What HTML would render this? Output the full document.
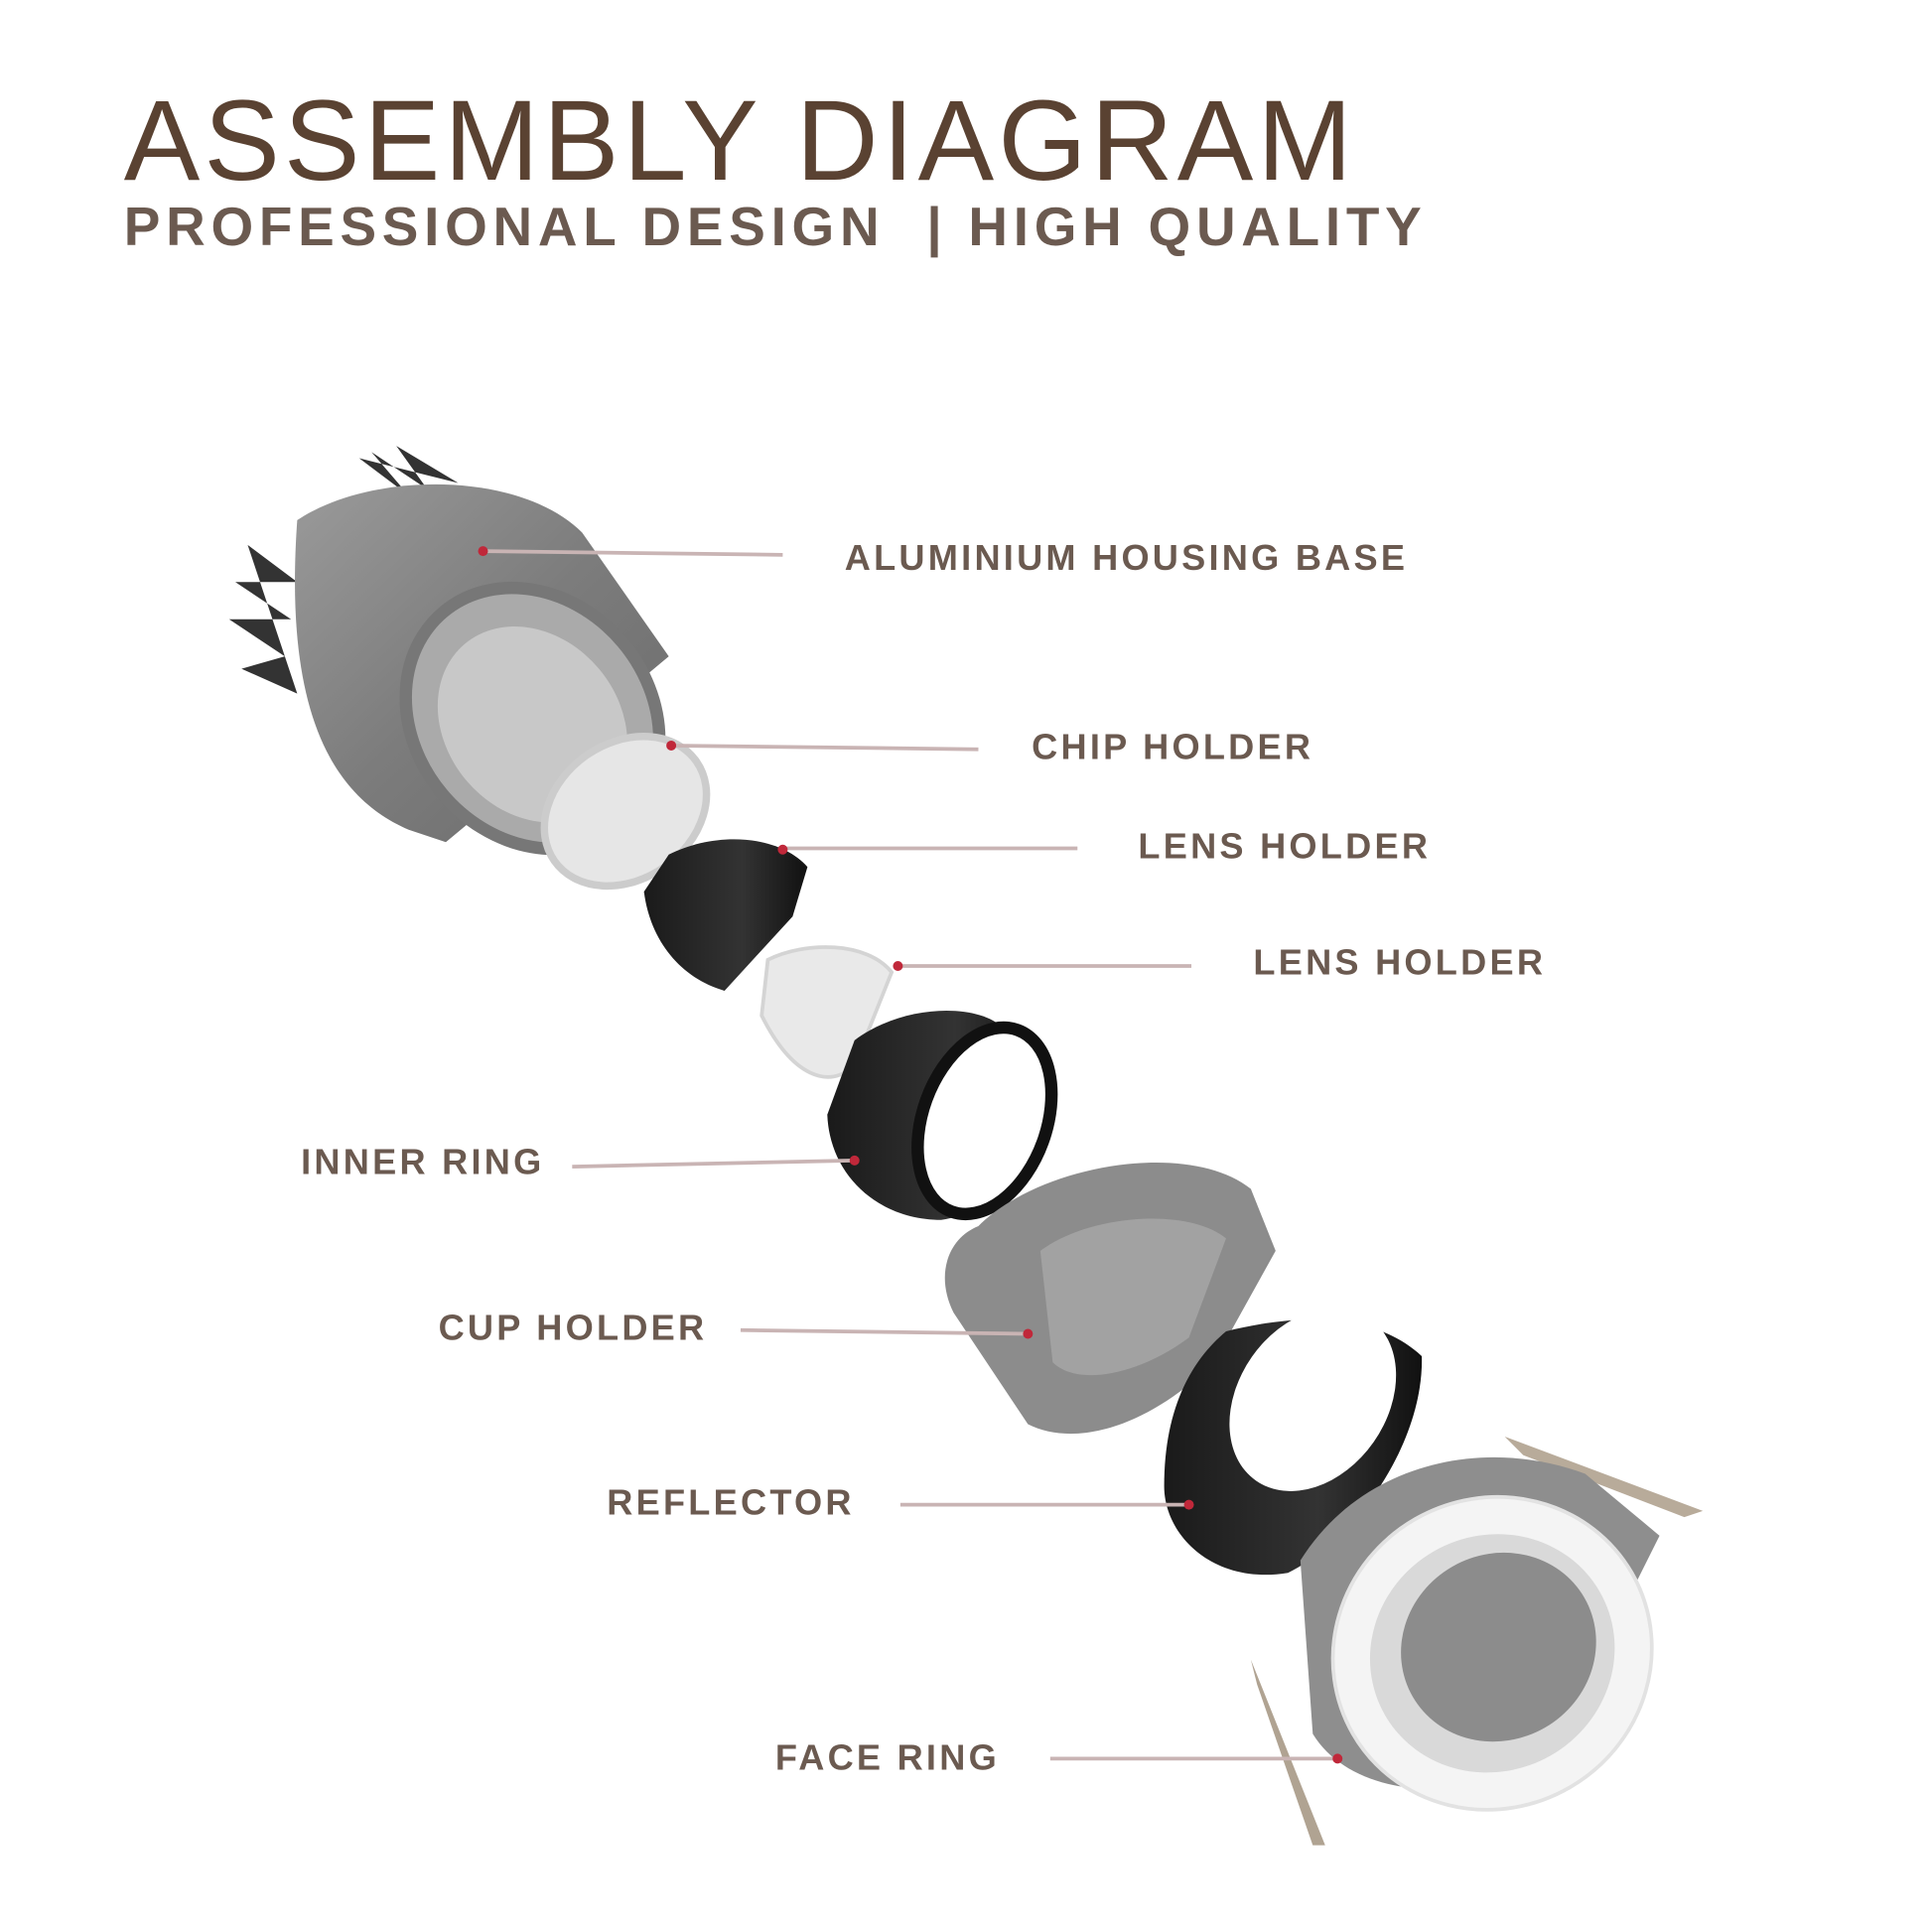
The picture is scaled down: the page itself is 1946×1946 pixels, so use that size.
<!DOCTYPE html>
<html><head><meta charset="utf-8"><style>
html,body{margin:0;padding:0;background:#fff;}
svg{display:block;}
text{font-family:"Liberation Sans",sans-serif;}
</style></head><body>
<svg width="1946" height="1946" viewBox="0 0 1560 1560" xmlns="http://www.w3.org/2000/svg">
<defs>
<linearGradient id="gg" x1="0" y1="0" x2="1" y2="1"><stop offset="0" stop-color="#9a9a9a"/><stop offset="0.5" stop-color="#7c7c7c"/><stop offset="1" stop-color="#6a6a6a"/></linearGradient>
<linearGradient id="bk" x1="0" y1="0" x2="1" y2="0"><stop offset="0" stop-color="#1a1a1a"/><stop offset="0.6" stop-color="#333"/><stop offset="1" stop-color="#111"/></linearGradient>
</defs>
<rect width="1560" height="1560" fill="#fff"/>
<text x="100" y="145" font-size="92" fill="#5a4232" letter-spacing="3.3">ASSEMBLY DIAGRAM</text>
<text x="100" y="198" font-size="44" fill="#6b5a50" letter-spacing="4.6" font-weight="600" xml:space="preserve">PROFESSIONAL DESIGN  | HIGH QUALITY</text>

<!-- Housing -->
<g>
 <polygon points="290,370 330,400 300,365 345,395 320,360 370,390" fill="#333"/>
 <polygon points="200,440 240,470 190,470 235,500 185,500 230,530 195,540 240,560" fill="#333"/>
 <path d="M240,420 C300,380 420,380 470,430 L540,530 L360,680 L330,670 C260,640 230,560 240,420 Z" fill="url(#gg)"/>
 <ellipse cx="430" cy="580" rx="95" ry="112" transform="rotate(-40 430 580)" fill="#aaa" stroke="#777" stroke-width="10"/>
 <ellipse cx="430" cy="585" rx="70" ry="85" transform="rotate(-40 430 585)" fill="#c8c8c8"/>
</g>
<!-- Chip holder -->
<ellipse cx="505" cy="655" rx="70" ry="55" transform="rotate(-35 505 655)" fill="#e6e6e6" stroke="#ccc" stroke-width="6"/>
<!-- Lens holder cone -->
<path d="M540,690 C580,670 630,675 652,700 L640,740 L585,800 C550,790 525,760 520,720 Z" fill="url(#bk)"/>
<!-- Lens -->
<path d="M620,775 C650,760 700,760 720,785 L690,860 C670,880 640,870 615,820 Z" fill="#e9e9e9" stroke="#d4d4d4" stroke-width="3"/>
<!-- Inner ring -->
<path d="M690,840 C730,810 790,810 810,830 L840,880 C845,930 800,980 760,985 C710,985 670,950 668,900 Z" fill="url(#bk)"/>
<ellipse cx="795" cy="905" rx="50" ry="78" transform="rotate(20 795 905)" fill="#fff" stroke="#111" stroke-width="10"/>
<!-- Cup holder -->
<path d="M790,990 C840,940 960,920 1010,960 L1030,1010 L980,1100 C930,1150 870,1170 830,1150 L770,1060 C755,1030 765,1000 790,990 Z" fill="#8c8c8c"/>
<path d="M840,1010 C880,980 960,975 990,1000 L960,1080 C920,1110 870,1120 850,1100 Z" fill="#a2a2a2"/>
<!-- Reflector -->
<path d="M990,1075 C1050,1060 1110,1060 1148,1095 C1150,1160 1100,1240 1040,1270 C980,1280 940,1240 940,1200 C940,1140 960,1100 990,1075 Z" fill="url(#bk)"/>
<ellipse cx="1060" cy="1130" rx="60" ry="80" transform="rotate(35 1060 1130)" fill="#fff"/>
<!-- Face ring -->
<polygon points="1215,1160 1375,1220 1360,1225 1230,1175" fill="#b8ab9a"/>
<polygon points="1010,1340 1070,1490 1060,1490 1015,1360" fill="#b0a392"/>
<path d="M1050,1260 C1100,1180 1200,1160 1280,1190 L1340,1240 L1250,1420 C1180,1460 1090,1450 1060,1400 Z" fill="#8e8e8e"/>
<ellipse cx="1205" cy="1335" rx="130" ry="125" transform="rotate(-30 1205 1335)" fill="#f4f4f4" stroke="#e2e2e2" stroke-width="3"/>
<ellipse cx="1205" cy="1335" rx="100" ry="95" transform="rotate(-30 1205 1335)" fill="#d9d9d9"/>
<ellipse cx="1210" cy="1330" rx="80" ry="75" transform="rotate(-30 1210 1330)" fill="#8c8c8c"/>

<!-- Leader lines -->
<g stroke="#c9b4b4" stroke-width="3" fill="none">
 <line x1="390" y1="445" x2="632" y2="448"/>
 <line x1="542" y1="602" x2="790" y2="605"/>
 <line x1="630" y1="685" x2="870" y2="685"/>
 <line x1="725" y1="780" x2="962" y2="780"/>
 <line x1="462" y1="942" x2="690" y2="937"/>
 <line x1="598" y1="1074" x2="830" y2="1077"/>
 <line x1="727" y1="1215" x2="960" y2="1215"/>
 <line x1="848" y1="1420" x2="1080" y2="1420"/>
</g>
<g fill="#c0283a">
 <circle cx="390" cy="445" r="4"/><circle cx="542" cy="602" r="4"/><circle cx="632" cy="686" r="4"/>
 <circle cx="725" cy="780" r="4"/><circle cx="690" cy="937" r="4"/><circle cx="830" cy="1077" r="4"/>
 <circle cx="960" cy="1215" r="4"/><circle cx="1080" cy="1420" r="4"/>
</g>
<g font-size="29" fill="#6b5a50" font-weight="bold" letter-spacing="2.6">
 <text x="682" y="460">ALUMINIUM HOUSING BASE</text>
 <text x="833" y="613">CHIP HOLDER</text>
 <text x="919" y="693">LENS HOLDER</text>
 <text x="1012" y="787">LENS HOLDER</text>
 <text x="243" y="948">INNER RING</text>
 <text x="354" y="1082">CUP HOLDER</text>
 <text x="490" y="1223">REFLECTOR</text>
 <text x="626" y="1429">FACE RING</text>
</g>
</svg>
</body></html>
